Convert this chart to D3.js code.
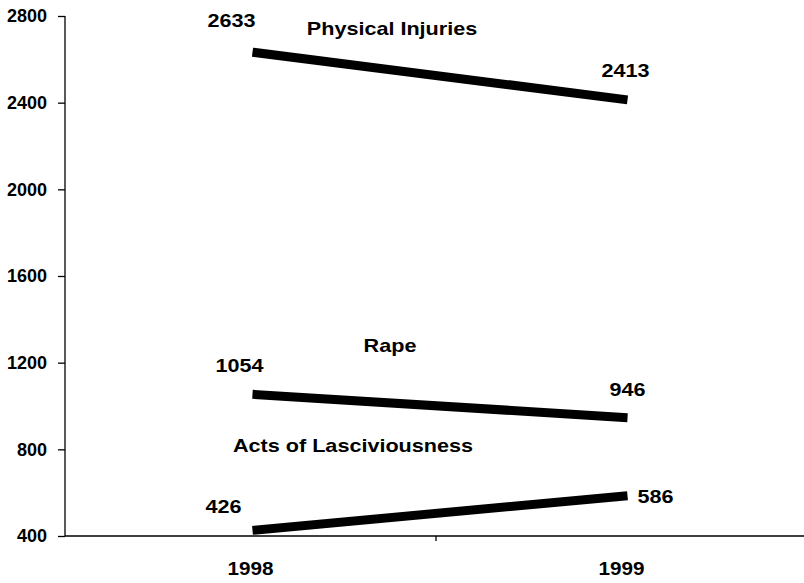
<!DOCTYPE html>
<html><head><meta charset="utf-8">
<script src="https://cdn.jsdelivr.net/npm/d3@7"></script>
<style>html,body{margin:0;padding:0;background:#fff;}svg{display:block;}</style>
</head><body>
<svg id="chart" width="804" height="583"></svg>
<script>
const categories = ["1998", "1999"];
const seriesNames = ["Physical Injuries", "Rape", "Acts of Lasciviousness"];
const physicalInjuries = [2633, 2413];
const rape = [1054, 946];
const actsOfLasciviousness = [426, 586];
const yTicks = [400, 800, 1200, 1600, 2000, 2400, 2800];

const series = [
  {name: seriesNames[0], values: physicalInjuries, nameX: 392, nameY: 35, vlab: [{dx: -21, y: 27}, {dx: -2, y: 77}]},
  {name: seriesNames[1], values: rape, nameX: 390, nameY: 352, vlab: [{dx: -13, y: 372}, {dx: 0, y: 396}]},
  {name: seriesNames[2], values: actsOfLasciviousness, nameX: 353, nameY: 452, vlab: [{dx: -29, y: 513}, {dx: 28, y: 503}]}
];

const svg = d3.select("#chart");
const font = "'Liberation Sans', Arial, sans-serif";

const x = d3.scaleBand().domain(categories).range([65, 815]);
const y = d3.scaleLinear().domain([400, 2800]).range([536, 16]);
const cx = c => x(c) + x.bandwidth() / 2;

// y axis
const yAxis = svg.append("g").attr("transform", "translate(65,0)")
  .call(d3.axisLeft(y).tickValues(yTicks).tickSize(7).tickPadding(11).tickFormat(d3.format("d")));
yAxis.select(".domain").attr("stroke", "#000").attr("stroke-width", 1.3).attr("d", "M0,16V536");
yAxis.selectAll(".tick line").attr("stroke", "#000").attr("stroke-width", 1.3);
yAxis.selectAll(".tick text").attr("font-family", font).attr("font-weight", "bold")
  .attr("font-size", 18).attr("fill", "#000");

// x axis
const xAxisG = svg.append("g").attr("transform", "translate(0,536)");
xAxisG.append("line").attr("x1", 65).attr("x2", 804).attr("y1", 0).attr("y2", 0)
  .attr("stroke", "#000").attr("stroke-width", 1.5);
xAxisG.append("line").attr("x1", x("1999") - 4).attr("x2", x("1999") - 4).attr("y1", 0).attr("y2", 5)
  .attr("stroke", "#000").attr("stroke-width", 1.3);
categories.forEach((c, i) => {
  xAxisG.append("text")
    .attr("transform", `translate(${cx(c) - (i === 0 ? 2 : 6)},39) scale(1.15,1)`)
    .attr("text-anchor", "middle").attr("font-family", font).attr("font-weight", "bold")
    .attr("font-size", 18).attr("fill", "#000").text(c);
});

// lines
const line = d3.line().x((d, i) => cx(categories[i])).y(d => y(d));
series.forEach(s => {
  svg.append("path").datum(s.values).attr("d", line)
    .attr("fill", "none").attr("stroke", "#000").attr("stroke-width", 9).attr("stroke-linecap", "butt");
  s.values.forEach((v, i) => {
    svg.append("text")
      .attr("transform", `translate(${cx(categories[i]) + s.vlab[i].dx},${s.vlab[i].y}) scale(1.2,1)`)
      .attr("text-anchor", "middle").attr("font-family", font).attr("font-weight", "bold")
      .attr("font-size", 18).attr("fill", "#000").text(v);
  });
  svg.append("text")
    .attr("transform", `translate(${s.nameX},${s.nameY}) scale(1.2,1)`)
    .attr("text-anchor", "middle").attr("font-family", font).attr("font-weight", "bold")
    .attr("font-size", 18).attr("fill", "#000").text(s.name);
});
</script>
</body></html>
